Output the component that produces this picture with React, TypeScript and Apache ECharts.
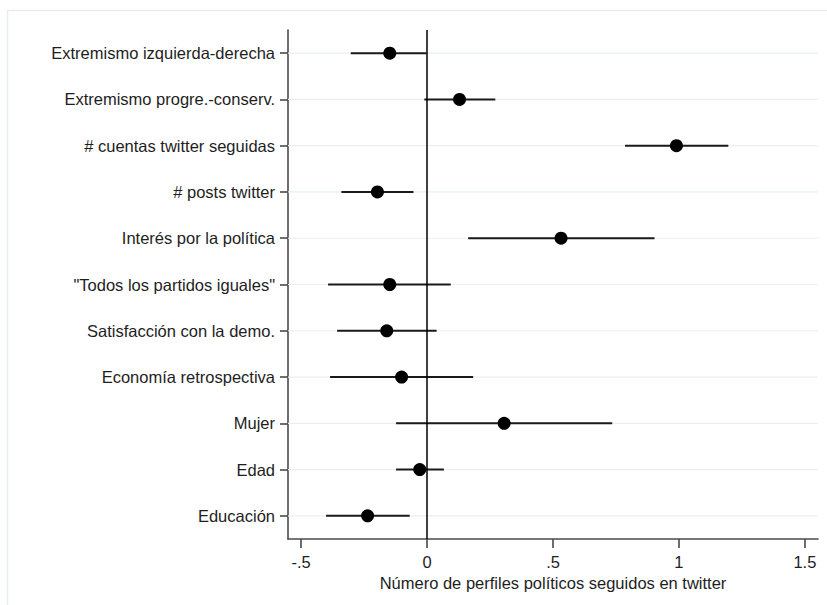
import React, { useEffect, useRef } from "react";
import * as echarts from "echarts";

const categories = [
  "Extremismo izquierda-derecha",
  "Extremismo progre.-conserv.",
  "# cuentas twitter seguidas",
  "# posts twitter",
  "Interés por la política",
  "\"Todos los partidos iguales\"",
  "Satisfacción con la demo.",
  "Economía retrospectiva",
  "Mujer",
  "Edad",
  "Educación",
];
const estimates = [-0.148, 0.129, 0.99, -0.197, 0.532, -0.148, -0.16, -0.101, 0.306, -0.029, -0.236];
const lower = [-0.303, -0.011, 0.786, -0.34, 0.163, -0.393, -0.357, -0.385, -0.123, -0.123, -0.401];
const upper = [-0.002, 0.271, 1.196, -0.054, 0.903, 0.094, 0.038, 0.183, 0.735, 0.067, -0.069];
const xTicks = [-0.5, 0, 0.5, 1, 1.5];
const xTickLabels = ["-.5", "0", ".5", "1", "1.5"];
const xTitle = "Número de perfiles políticos seguidos en twitter";

export default function App() {
  const ref = useRef<HTMLDivElement>(null);
  useEffect(() => {
    if (!ref.current) return;
    const chart = echarts.init(ref.current, null, { renderer: "svg" });
    const font = "'Liberation Sans', Arial, sans-serif";
    const ciData = categories.map((c, i) => [lower[i], upper[i], i]);
    const ptData = categories.map((c, i) => [estimates[i], c]);
    chart.setOption({
      animation: false,
      backgroundColor: "#ffffff",
      graphic: [
        {
          type: "rect",
          shape: { x: 7.5, y: 10.5, width: 840, height: 620 },
          style: { fill: "none", stroke: "#e6eeee", lineWidth: 1.5 },
          silent: true,
          z: -10,
        },
      ],
      grid: { left: 288, right: 9, top: 30, bottom: 66, containLabel: false },
      xAxis: {
        type: "value",
        min: -0.552,
        max: 1.552,
        name: xTitle,
        nameLocation: "middle",
        nameGap: 32,
        nameTextStyle: { fontFamily: font, fontSize: 16.5, color: "#1e1e1e" },
        axisLine: { show: true, onZero: false, lineStyle: { color: "#4a4a4a", width: 1.6 } },
        axisTick: {
          show: true,
          length: 9,
          customValues: xTicks,
          lineStyle: { color: "#4a4a4a", width: 1.6 },
        },
        axisLabel: {
          customValues: xTicks,
          fontFamily: font,
          fontSize: 16.5,
          color: "#1e1e1e",
          margin: 14,
          formatter: (v: number) => {
            const k = xTicks.findIndex((t) => Math.abs(t - v) < 1e-6);
            return k >= 0 ? xTickLabels[k] : "";
          },
        },
        splitLine: { show: false },
      },
      yAxis: {
        type: "category",
        data: categories,
        inverse: true,
        boundaryGap: true,
        axisLine: { show: true, onZero: false, lineStyle: { color: "#4a4a4a", width: 1.6 } },
        axisTick: { show: true, alignWithLabel: true, length: 8, lineStyle: { color: "#4a4a4a", width: 1.6 } },
        axisLabel: { fontFamily: font, fontSize: 16.5, color: "#1e1e1e", margin: 13 },
        splitLine: { show: false },
      },
      series: [
        {
          type: "custom",
          silent: true,
          z: 1,
          data: categories.map((c, i) => [0, i]),
          encode: { x: 0, y: 1 },
          renderItem: (params: any, api: any) => {
            const cs = params.coordSys;
            const p = api.coord([0, api.value(1)]);
            return {
              type: "line",
              shape: { x1: cs.x, y1: p[1], x2: cs.x + cs.width, y2: p[1] },
              style: { stroke: "#e8f0f1", lineWidth: 1.2 },
            };
          },
        },
        {
          type: "custom",
          silent: true,
          z: 3,
          data: ciData,
          encode: { x: [0, 1], y: 2 },
          renderItem: (params: any, api: any) => {
            const a = api.coord([api.value(0), api.value(2)]);
            const b = api.coord([api.value(1), api.value(2)]);
            return {
              type: "line",
              shape: { x1: a[0], y1: a[1], x2: b[0], y2: b[1] },
              style: { stroke: "#1a1a1a", lineWidth: 2 },
            };
          },
        },
        {
          type: "scatter",
          z: 4,
          data: ptData,
          symbol: "circle",
          symbolSize: 13,
          itemStyle: { color: "#000000", opacity: 1 },
          markLine: {
            silent: true,
            symbol: "none",
            label: { show: false },
            lineStyle: { color: "#000", width: 1.5, type: "solid" },
            data: [{ xAxis: 0 }],
          },
        },
      ],
    });
    return () => chart.dispose();
  }, []);
  return (
    <div
      ref={ref}
      style={{ position: "fixed", left: 0, top: 0, width: 827, height: 605 }}
    />
  );
}
